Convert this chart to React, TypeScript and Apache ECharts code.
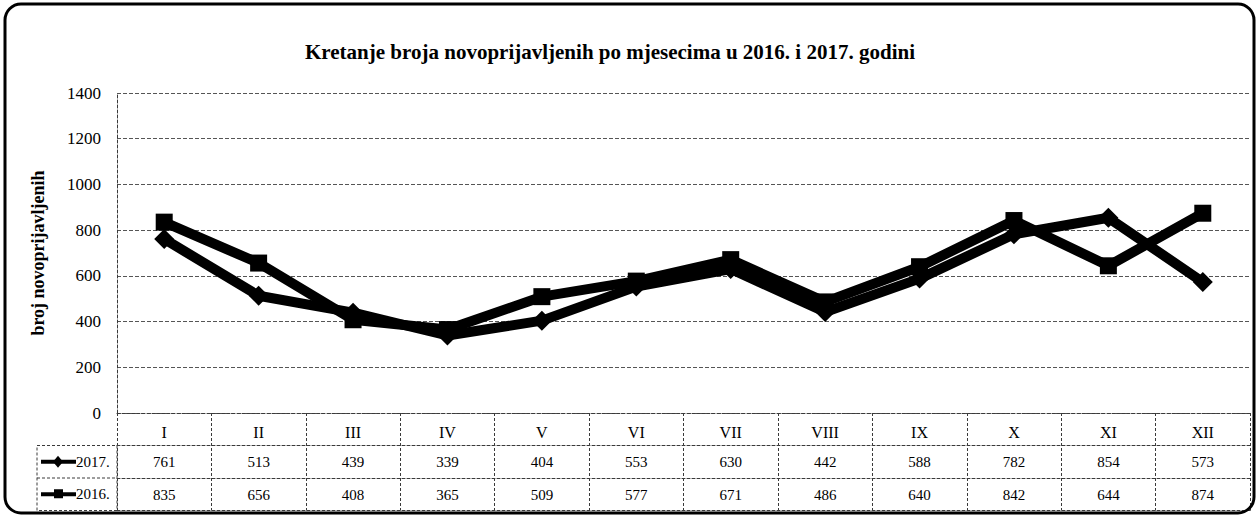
import React, { useEffect, useRef } from "react";
import * as echarts from "echarts";

const categories = ["I", "II", "III", "IV", "V", "VI", "VII", "VIII", "IX", "X", "XI", "XII"];
const values2017 = [761, 513, 439, 339, 404, 553, 630, 442, 588, 782, 854, 573];
const values2016 = [835, 656, 408, 365, 509, 577, 671, 486, 640, 842, 644, 874];
const seriesNames = ["2017.", "2016."];
const yTicks = [0, 200, 400, 600, 800, 1000, 1200, 1400];

const W = 1260;
const H = 517;
const gridLeft = 117;
const gridRight = 10;
const gridTop = 93;
const gridBottom = 104;
const axisY = H - gridBottom; // 413
const rowH = 32.5;
const headLeft = 37;
const lineColor = "#3a3a3a";
const serif = "'Liberation Serif', 'DejaVu Serif', serif";

export default function App() {
  const ref = useRef<HTMLDivElement>(null);
  useEffect(() => {
    document.body.style.margin = "0";
    const chart = echarts.init(ref.current!, null, { renderer: "svg" });
    const dashed = { color: lineColor, width: 1, type: [3, 2] as any };
    const row1 = axisY + rowH; // top of 2017 row
    const row2 = axisY + 2 * rowH;
    const row3 = axisY + 3 * rowH;
    const headerItem = (name: string, yc: number, symbol: "diamond" | "square") => {
      const children: any[] = [
        { type: "line", shape: { x1: 41, y1: yc, x2: 76, y2: yc }, style: { stroke: "#000", lineWidth: 4 } },
        symbol === "diamond"
          ? { type: "polygon", shape: { points: [[58, yc - 6], [63, yc], [58, yc + 6], [53, yc]] }, style: { fill: "#000" } }
          : { type: "rect", shape: { x: 54, y: yc - 5, width: 9, height: 9 }, style: { fill: "#000" } },
        {
          type: "text",
          x: 76,
          y: yc,
          style: { text: name, font: `15px ${serif}`, fill: "#000", textVerticalAlign: "middle", verticalAlign: "middle" },
        },
      ];
      return { type: "group", children };
    };
    const valueAxis = (data: any[], offset: number, showLabels: boolean) => ({
      type: "category",
      position: "bottom",
      data,
      offset,
      axisLine: { show: true, lineStyle: dashed },
      axisTick: { show: false },
      axisLabel: {
        show: showLabels,
        interval: 0,
        margin: 9,
        fontFamily: serif,
        fontSize: 15,
        color: "#000",
      },
      splitLine: { show: false },
    });
    chart.setOption({
      animation: false,
      backgroundColor: "#fff",
      title: {
        text: "Kretanje broja novoprijavljenih po mjesecima u 2016. i 2017. godini",
        left: 605,
        textAlign: "center",
        top: 36,
        textStyle: { fontFamily: serif, fontSize: 21, fontWeight: "bold", color: "#000" },
      },
      grid: { left: gridLeft, right: gridRight, top: gridTop, bottom: gridBottom },
      xAxis: [
        {
          type: "category",
          position: "bottom",
          data: categories,
          boundaryGap: true,
          axisLine: { show: true, lineStyle: dashed },
          axisTick: { show: true, length: 3 * rowH, alignWithLabel: false, interval: 0, lineStyle: dashed },
          axisLabel: { interval: 0, margin: 11, fontFamily: serif, fontSize: 16, color: "#000" },
          splitLine: { show: false },
        },
        valueAxis(values2017, rowH, true),
        valueAxis(values2016, 2 * rowH, true),
        valueAxis(categories, 3 * rowH, false),
      ],
      yAxis: {
        type: "value",
        min: 0,
        max: 1400,
        interval: 200,
        name: "broj novoprijavljenih",
        nameLocation: "middle",
        nameGap: 70,
        nameTextStyle: { fontFamily: serif, fontSize: 18, fontWeight: "bold", color: "#000" },
        axisLine: { show: true, lineStyle: dashed },
        axisTick: { show: false },
        axisLabel: {
          margin: 16,
          fontFamily: serif,
          fontSize: 17,
          color: "#000",
          formatter: (v: number) => (yTicks.includes(v) ? String(v) : ""),
        },
        splitLine: { show: true, lineStyle: { color: "#555", width: 1, type: [4, 2] } },
      },
      series: [
        {
          name: seriesNames[0],
          type: "line",
          data: values2017,
          symbol: "diamond",
          symbolSize: 20,
          lineStyle: { color: "#000", width: 10 },
          itemStyle: { color: "#000" },
          z: 3,
        },
        {
          name: seriesNames[1],
          type: "line",
          data: values2016,
          symbol: "rect",
          symbolSize: 17,
          lineStyle: { color: "#000", width: 10 },
          itemStyle: { color: "#000" },
          z: 2,
        },
      ],
      graphic: [
        {
          type: "rect",
          shape: { x: 5, y: 4, width: 1249, height: 509, r: 16 },
          style: { fill: "none", stroke: "#000", lineWidth: 3 },
          z: 100,
        },
        {
          type: "rect",
          shape: { x: headLeft, y: row1, width: gridLeft - headLeft, height: 2 * rowH },
          style: { fill: "none", stroke: lineColor, lineWidth: 1, lineDash: [3, 2] },
        },
        {
          type: "line",
          shape: { x1: headLeft, y1: row2, x2: gridLeft, y2: row2 },
          style: { stroke: lineColor, lineWidth: 1, lineDash: [3, 2] },
        },
        headerItem(seriesNames[0], (row1 + row2) / 2, "diamond"),
        headerItem(seriesNames[1], (row2 + row3) / 2, "square"),
      ],
    });
    return () => chart.dispose();
  }, []);
  return <div ref={ref} style={{ width: W, height: H }} />;
}
